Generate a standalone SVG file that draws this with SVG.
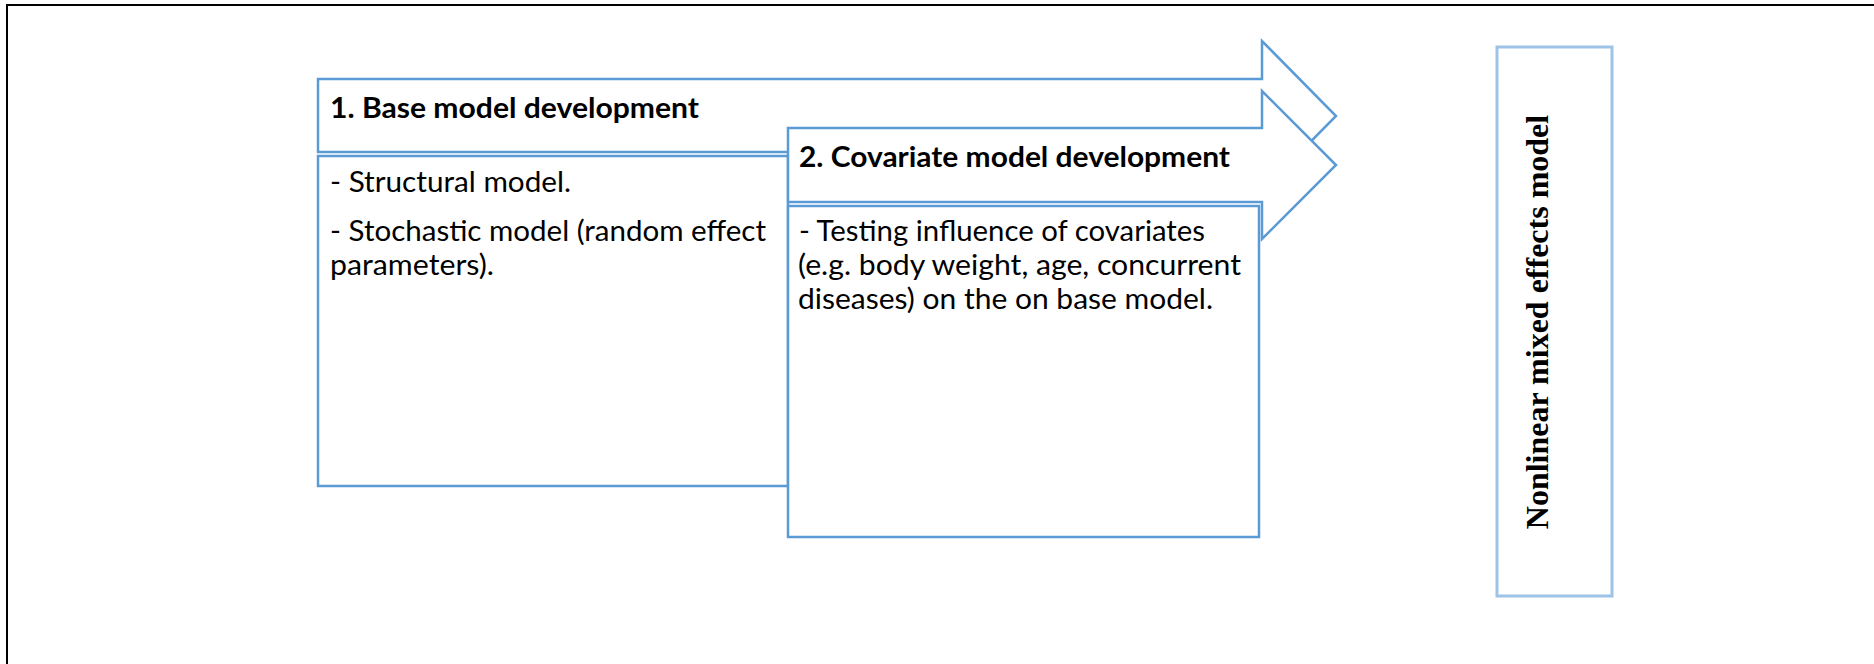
<svg xmlns="http://www.w3.org/2000/svg" width="1874" height="664" viewBox="0 0 1874 664">
  <style>
    .shape { fill: #ffffff; stroke: #5B9BD5; stroke-width: 2.5; }
    .result { fill: #ffffff; stroke: #9DC3E6; stroke-width: 3; }
    .head { font-family: Lato, "Liberation Sans", sans-serif; font-weight: bold; font-size: 29px; fill: #000000; }
    .body { font-family: Lato, "Liberation Sans", sans-serif; font-size: 29px; fill: #000000; }
    .vert { font-family: "Liberation Serif", serif; font-weight: bold; font-size: 32px; fill: #000000; }
  </style>

  <!-- page frame (only top and left edges fall inside the view) -->
  <path d="M7,670 V5 H1880" fill="none" stroke="#000000" stroke-width="2"/>

  <!-- step 1: base model -->
  <g id="step1">
    <path class="shape" d="M318,79 H1262 V41 L1336,116 L1262,191 V152 H318 Z"/>
    <text class="head" x="330" y="118" textLength="369" lengthAdjust="spacingAndGlyphs">1. Base model development</text>
  </g>
  <g id="step1-details">
    <rect class="shape" x="318" y="156" width="470" height="330"/>
    <text class="body" x="330" y="192" textLength="241" lengthAdjust="spacingAndGlyphs">- Structural model.</text>
    <text class="body" x="330" y="241" textLength="436" lengthAdjust="spacingAndGlyphs">- Stochastic model (random effect</text>
    <text class="body" x="330" y="275" textLength="164" lengthAdjust="spacingAndGlyphs">parameters).</text>
  </g>

  <!-- step 2: covariate model -->
  <g id="step2">
    <path class="shape" d="M788,128 H1262 V91 L1336,165 L1262,239 V202 H788 Z"/>
    <text class="head" x="799" y="167" textLength="431" lengthAdjust="spacingAndGlyphs">2. Covariate model development</text>
  </g>
  <g id="step2-details">
    <rect class="shape" x="788" y="206" width="471" height="331"/>
    <text class="body" x="799" y="241" textLength="406" lengthAdjust="spacingAndGlyphs">- Testing influence of covariates</text>
    <text class="body" x="798" y="275" textLength="443" lengthAdjust="spacingAndGlyphs">(e.g. body weight, age, concurrent</text>
    <text class="body" x="798" y="309" textLength="415" lengthAdjust="spacingAndGlyphs">diseases) on the on base model.</text>
  </g>

  <!-- outcome -->
  <g id="outcome">
    <rect class="result" x="1497" y="47" width="115" height="549"/>
    <text class="vert" transform="translate(1548,322) rotate(-90)" text-anchor="middle">Nonlinear mixed effects model</text>
  </g>

  <g id="connectors"/>
</svg>
